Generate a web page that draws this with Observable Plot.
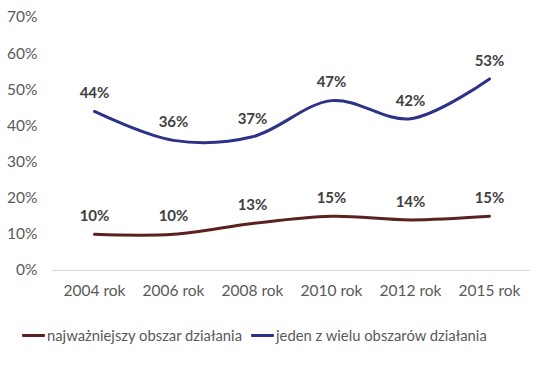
<!DOCTYPE html>
<html>
<head>
<meta charset="utf-8">
<script src="https://cdn.jsdelivr.net/npm/d3@7"></script>
<script src="https://cdn.jsdelivr.net/npm/@observablehq/plot@0.6"></script>
<style>
  body { margin: 0; background: #fff; font-family: Lato, "Open Sans", sans-serif; }
  #chart { position: relative; width: 550px; }
  .legend { display: flex; align-items: center; margin-top: 26px; padding-left: 22px; font-size: 14.8px; color: #595959; }
  .item { display: flex; align-items: center; margin-right: 9px; }
  .sw { width: 23px; height: 3px; margin-right: 2px; border-radius: 1px; }
</style>
</head>
<body>
<div id="chart"></div>
<script>
const years = ["2004 rok", "2006 rok", "2008 rok", "2010 rok", "2012 rok", "2015 rok"];
const seriesNames = ["najważniejszy obszar działania", "jeden z wielu obszarów działania"];
const mainValues = [10, 10, 13, 15, 14, 15];
const manyValues = [44, 36, 37, 47, 42, 53];
const colors = ["#5b2020", "#2b3288"];
const yTicks = [0, 10, 20, 30, 40, 50, 60, 70];

const data = [];
years.forEach((y, i) => {
  data.push({year: y, series: seriesNames[0], value: mainValues[i]});
  data.push({year: y, series: seriesNames[1], value: manyValues[i]});
});

const plot = Plot.plot({
  width: 550,
  height: 300,
  marginTop: 17,
  marginBottom: 30,
  marginLeft: 52,
  marginRight: 20,
  style: {fontFamily: "Lato, 'Open Sans', sans-serif", fontSize: "15px", color: "#595959", background: "#fff"},
  x: {type: "point", domain: years, padding: 0.5, label: null},
  y: {domain: [0, 70], ticks: yTicks, label: null, tickFormat: d => d + "%"},
  color: {domain: seriesNames, range: colors},
  marks: [
    Plot.ruleY([0], {stroke: "#d9d9d9", strokeWidth: 1}),
    Plot.axisY({ticks: yTicks, tickSize: 0, tickPadding: 15, tickFormat: d => d + "%", fill: "#595959", fontSize: 15.5, label: null}),
    Plot.axisX({tickSize: 0, tickPadding: 14, fill: "#595959", fontSize: 15.5, label: null}),
    Plot.line(data, {x: "year", y: "value", stroke: "series", z: "series", curve: "catmull-rom", strokeWidth: 3}),
    Plot.text(data, {x: "year", y: "value", text: d => d.value + "%", dy: -18, fill: "#404040", fontWeight: "bold", fontSize: 15})
  ]
});
document.getElementById("chart").appendChild(plot);

const legend = document.createElement("div");
legend.className = "legend";
seriesNames.forEach((s, i) => {
  const it = document.createElement("div");
  it.className = "item";
  const sw = document.createElement("span");
  sw.className = "sw";
  sw.style.background = colors[i];
  const t = document.createElement("span");
  t.textContent = s;
  it.appendChild(sw); it.appendChild(t);
  legend.appendChild(it);
});
document.getElementById("chart").appendChild(legend);
</script>
</body>
</html>
